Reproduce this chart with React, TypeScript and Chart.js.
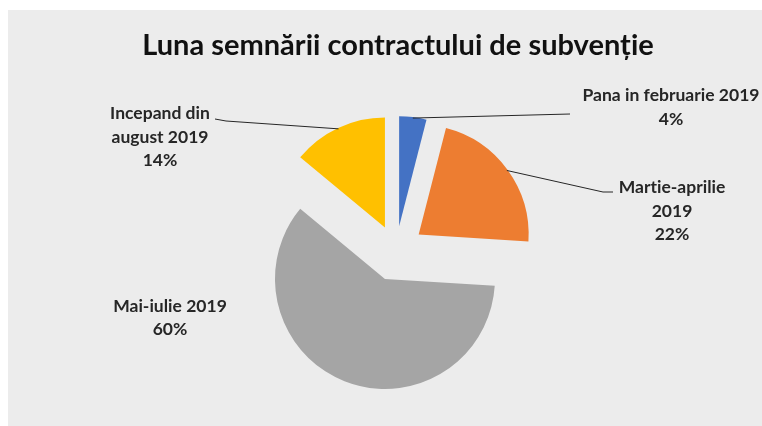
import React, { useEffect, useRef } from "react";
import { Chart, registerables } from "chart.js";

Chart.register(...registerables);

// ---- data ----
const TITLE = "Luna semnării contractului de subvenție";
const categories = ["Pana in februarie 2019", "Martie-aprilie 2019", "Mai-iulie 2019", "Incepand din august 2019"];
const shares = [4, 22, 60, 14];
const percentLabels = ["4%", "22%", "60%", "14%"];
const nameLines = [["Pana in februarie 2019"], ["Martie-aprilie", "2019"], ["Mai-iulie 2019"], ["Incepand din", "august 2019"]];

// ---- styles / layout ----
const sliceColors = ["#4472C4", "#ED7D31", "#A5A5A5", "#FFC000"];
const explodePx = [25, 28, 30, 26];
const PIE_RADIUS = 110;
const PANEL_BG = "#ececec";
const FONT = "Lato, 'Open Sans', sans-serif";
const LINE_GAP = 23.5;
// label text anchor (center x, first baseline) relative to pie centre
const labelPos = [
  [275, -150],
  [276, -58],
  [-226, 60.5],
  [-236, -132],
];
// leader line points (after arc edge point) relative to pie centre
const leaderPts: number[][][] = [
  [[174, -137]],
  [[207, -59], [217, -59]],
  [],
  [[-170, -130], [-181, -132]],
];

const explodeFix = {
  id: "explodeFix",
  beforeDatasetsDraw(chart: any) {
    const meta = chart.getDatasetMeta(0);
    const total = shares.reduce((a, b) => a + b, 0);
    let acc = 0;
    meta.data.forEach((arc: any, i: number) => {
      const s0 = -Math.PI / 2 + (acc / total) * 2 * Math.PI;
      acc += shares[i];
      const e0 = -Math.PI / 2 + (acc / total) * 2 * Math.PI;
      const t = (arc.options.offset || 0) / 4;
      const fix = 1 - Math.sin(Math.min(Math.PI, e0 - s0));
      const ro = t * fix;
      arc.outerRadius = PIE_RADIUS - ro;
      const pad = ro / (2 * Math.PI * PIE_RADIUS);
      arc.startAngle = s0 - pad;
      arc.endAngle = e0 + pad;
    });
  },
};

const labelsPlugin = {
  id: "pieLabels",
  afterDatasetsDraw(chart: any) {
    const ctx = chart.ctx;
    const meta = chart.getDatasetMeta(0);
    const arc0: any = meta.data[0];
    const cx = arc0.x;
    const cy = arc0.y;
    ctx.save();
    try { (ctx as any).letterSpacing = "0.01px"; } catch (e) {}
    // title
    ctx.fillStyle = "#111";
    ctx.font = `bold 29px ${FONT}`;
    ctx.textAlign = "center";
    ctx.textBaseline = "alphabetic";
    ctx.fillText(TITLE, cx + 2, 44.5);

    meta.data.forEach((arc: any, i: number) => {
      const mid = (arc.startAngle + arc.endAngle) / 2;
      const t = explodePx[i];
      const pts = leaderPts[i];
      if (pts.length) {
        ctx.strokeStyle = "#262626";
        ctx.lineWidth = 1;
        ctx.beginPath();
        ctx.moveTo(cx + Math.cos(mid) * (t + PIE_RADIUS - 1), cy + Math.sin(mid) * (t + PIE_RADIUS - 1));
        pts.forEach((p) => ctx.lineTo(cx + p[0], cy + p[1]));
        ctx.stroke();
      }
      const lines = [...nameLines[i], percentLabels[i]];
      ctx.fillStyle = "#262626";
      ctx.font = `bold 17.5px ${FONT}`;
      ctx.textAlign = "center";
      lines.forEach((ln, k) => {
        ctx.fillText(ln, cx + labelPos[i][0], cy + labelPos[i][1] + k * LINE_GAP);
      });
    });
    ctx.restore();
  },
};

export default function App() {
  const ref = useRef<HTMLCanvasElement | null>(null);
  useEffect(() => {
    if (!ref.current) return;
    const chart = new Chart(ref.current, {
      type: "pie",
      data: {
        labels: categories,
        datasets: [
          {
            data: shares,
            backgroundColor: sliceColors,
            borderWidth: 0,
            offset: explodePx.map((v) => v * 4),
            radius: PIE_RADIUS,
          } as any,
        ],
      },
      options: {
        animation: false,
        responsive: false,
        events: [],
        layout: { padding: { left: 22, right: 0, top: 66, bottom: 0 } },
        plugins: {
          legend: { display: false },
          title: { display: false },
          tooltip: { enabled: false },
        },
      } as any,
      plugins: [explodeFix, labelsPlugin],
    });
    return () => chart.destroy();
  }, []);
  return (
    <div style={{ position: "absolute", left: 8, top: 10, width: 754, height: 416, background: PANEL_BG }}>
      <canvas ref={ref} width={754} height={416} style={{ display: "block", width: 754, height: 416 }} />
    </div>
  );
}
